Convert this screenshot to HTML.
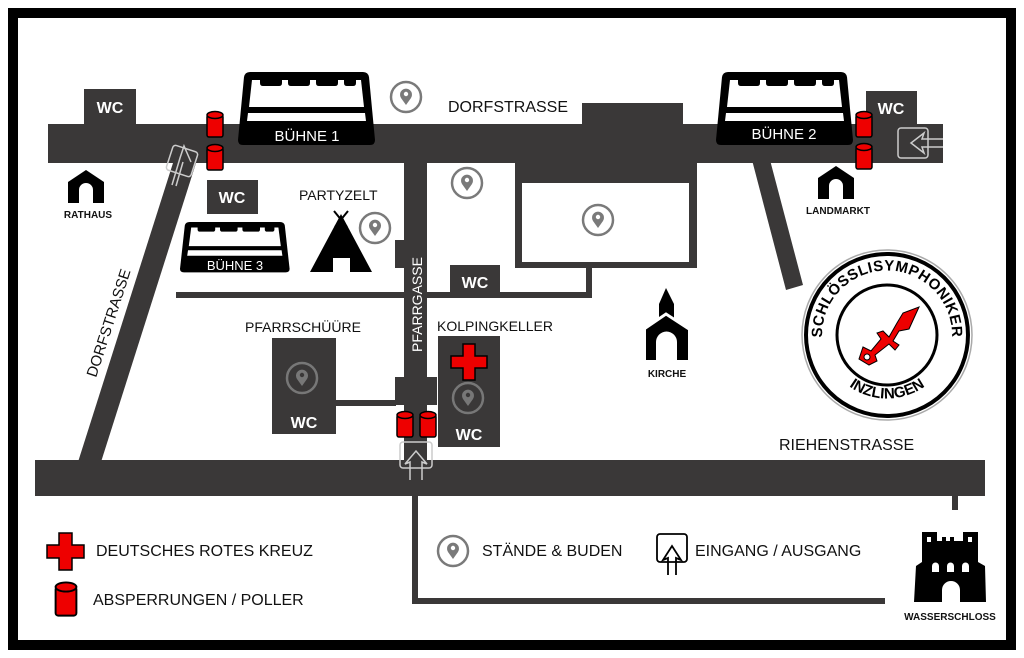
<!DOCTYPE html>
<html><head><meta charset="utf-8"><style>
html,body{margin:0;padding:0;background:#fff}
svg{display:block}
text{font-family:"Liberation Sans",sans-serif}
</style></head><body>
<svg width="1024" height="658" viewBox="0 0 1024 658" xmlns="http://www.w3.org/2000/svg">
<defs>
<g id="stage">
  <path d="M12,0 H125 Q130,0 131,5 L137,68 Q137,73 132,73 H5 Q0,73 0,68 L6,5 Q7,0 12,0 Z" fill="#000"/>
  <polygon points="14,8 123,8 126,35 11,35" fill="#fff"/>
  <path d="M22,8 h22 v3 q0,3 -3,3 h-16 q-3,0 -3,-3z M50,8 h22 v3 q0,3 -3,3 h-16 q-3,0 -3,-3z M78,8 h22 v3 q0,3 -3,3 h-16 q-3,0 -3,-3z M106,8 h12 v3 q0,3 -3,3 h-6 q-3,0 -3,-3z" fill="#000"/>
  <polygon points="10,41 127,41 128,49 9,49" fill="#fff"/>
</g>
<g id="pin">
  <circle cx="0" cy="0" r="15" fill="none" stroke="#7a7a7a" stroke-width="2.5"/>
  <path d="M0,8 L-5,1 A6,6 0 1 1 5,1 Z" fill="#7a7a7a"/>
  <circle cx="0" cy="-3" r="2.2" fill="#fff"/>
</g>
<g id="pinw">
  <circle cx="0" cy="0" r="15" fill="none" stroke="#777" stroke-width="2.5"/>
  <path d="M0,8 L-5,1 A6,6 0 1 1 5,1 Z" fill="#777"/>
  <circle cx="0" cy="-3" r="2.2" fill="#3a3838"/>
</g>
<g id="boll">
  <rect x="-8" y="-10" width="16" height="22" rx="2" fill="#e00" stroke="#000" stroke-width="1.5"/>
  <ellipse cx="0" cy="-10" rx="8" ry="3.5" fill="#e00" stroke="#000" stroke-width="1.5"/>
</g>
<g id="house">
  <path d="M0,12 L18,0 L36,12 V33 H25 V20 A7,7 0 0 0 11,20 V33 H0 Z" fill="#000"/>
</g>
</defs>

<!-- frame -->
<rect x="13" y="13" width="998" height="632" fill="#fff" stroke="#000" stroke-width="10"/>

<g fill="#3a3838">
  <!-- Dorfstrasse top -->
  <rect x="48" y="124" width="895" height="39"/>
  <rect x="84" y="89" width="52" height="36"/>
  <rect x="582" y="103" width="101" height="22"/>
  <rect x="866" y="91" width="51" height="34"/>
  <!-- Pfarrgasse -->
  <rect x="404" y="160" width="23" height="302"/>
  <rect x="395" y="240" width="12" height="28"/>
  <rect x="395" y="377" width="42" height="28"/>
  <!-- block -->
  <path d="M515,160 H697 V268 H515 Z M522,183 V262 H689 V183 Z" fill-rule="evenodd"/>
  <rect x="586" y="266" width="6" height="32"/>
  <rect x="176" y="292" width="416" height="6"/>
  <rect x="450" y="265" width="50" height="33"/>
  <!-- diagonals -->
  <polygon points="78,462 101,462 196,163 173,163"/>
  <polygon points="752,160 770,160 803,285 786,290"/>
  <!-- Riehenstrasse -->
  <rect x="35" y="460" width="950" height="36"/>
  <rect x="952" y="494" width="6" height="16"/>
  <rect x="412" y="494" width="6" height="110"/>
  <rect x="412" y="598" width="473" height="6"/>
  <!-- boxes -->
  <rect x="207" y="180" width="51" height="34"/>
  <rect x="272" y="338" width="64" height="96"/>
  <rect x="438" y="336" width="62" height="111"/>
  <rect x="334" y="400" width="62" height="6"/>
</g>

<!-- WC labels -->
<g fill="#fff" font-weight="bold" font-size="16" text-anchor="middle">
  <text x="110" y="113">WC</text>
  <text x="891" y="114">WC</text>
  <text x="232" y="203">WC</text>
  <text x="475" y="288">WC</text>
  <text x="304" y="428">WC</text>
  <text x="469" y="440">WC</text>
</g>

<!-- stages -->
<use href="#stage" transform="translate(238,72)"/>
<text x="307" y="141" fill="#fff" font-size="15" text-anchor="middle">BÜHNE 1</text>
<use href="#stage" transform="translate(716,72)"/>
<text x="784" y="139" fill="#fff" font-size="15" text-anchor="middle">BÜHNE 2</text>
<use href="#stage" transform="translate(180,222) scale(0.8,0.69)"/>
<text x="235" y="270" fill="#fff" font-size="13" text-anchor="middle">BÜHNE 3</text>

<!-- bollards -->
<use href="#boll" transform="translate(215,125)"/>
<use href="#boll" transform="translate(215,158)"/>
<use href="#boll" transform="translate(864,125)"/>
<use href="#boll" transform="translate(864,157)"/>
<use href="#boll" transform="translate(405,425)"/>
<use href="#boll" transform="translate(428,425)"/>
<use href="#boll" transform="translate(66,600) scale(1.3,1.3)"/>

<!-- entrance icons -->
<g fill="none" stroke="#ccc" stroke-width="1.5">
  <rect x="169" y="148" width="26" height="26" rx="3" transform="rotate(18 182 161)"/>
  <path d="M172,185 L180,158 L184,146 L191,162 M176,186 L183,162"/>
  <rect x="400" y="442" width="32" height="26" rx="3"/>
  <path d="M410,480 V462 L405,464 L416,451 L427,464 L422,462 V480"/>
  <rect x="898" y="128" width="30" height="30" rx="3"/>
  <path d="M943,139 H922 L924,133 L911,143 L924,153 L922,147 H943"/>
</g>
<g fill="none" stroke="#000" stroke-width="1.8">
  <rect x="657" y="534" width="30" height="28" rx="3"/>
  <path d="M668,575 V558 L663,560 L672,546 L681,560 L676,558 V575"/>
</g>

<!-- pins -->
<use href="#pin" transform="translate(406,97)"/>
<use href="#pin" transform="translate(467,183)"/>
<use href="#pin" transform="translate(375,228)"/>
<use href="#pin" transform="translate(598,220)"/>
<use href="#pinw" transform="translate(302,378)"/>
<use href="#pinw" transform="translate(468,398)"/>
<use href="#pin" transform="translate(453,551)"/>

<!-- red crosses -->
<path d="M463,344 h12 v12 h12 v12 h-12 v12 h-12 v-12 h-12 v-12 h12 z" fill="#e00" stroke="#000" stroke-width="1.5"/>
<path d="M59,533 h13 v12 h12 v13 h-12 v12 h-13 v-12 h-12 v-13 h12 z" fill="#e00" stroke="#000" stroke-width="1.5"/>

<!-- houses -->
<use href="#house" transform="translate(68,170)"/>
<use href="#house" transform="translate(818,166)"/>
<!-- tent -->
<path d="M341,214 L310,272 H333 V258 H350 V272 H372 Z" fill="#000"/>
<path d="M334,211 L347,227 M348,211 L335,227" stroke="#000" stroke-width="2"/>
<!-- church -->
<path d="M666,288 L674,304 V318 L688,328 V360 H677 V342 A10,10 0 0 0 656,342 V360 H646 V328 L659,318 V304 Z" fill="#000"/>
<path d="M644,329 L666,314 L689,329" stroke="#fff" stroke-width="3" fill="none"/>
<!-- castle -->
<path d="M922,532 H937 V541 H963 V532 H978 V562 L985,566 L986,602 H960 V590 A9,9 0 0 0 942,590 V602 H914 L916,566 L922,562 Z" fill="#000"/>
<rect x="942" y="537" width="4" height="5" fill="#000"/><rect x="950" y="537" width="4" height="5" fill="#000"/>
<rect x="927" y="537" width="4" height="5" fill="#fff"/><rect x="968" y="537" width="4" height="5" fill="#fff"/>
<path d="M932,572 v-6 a3.5,3.5 0 0 1 7,0 v6z M947,572 v-6 a3.5,3.5 0 0 1 7,0 v6z M962,572 v-6 a3.5,3.5 0 0 1 7,0 v6z" fill="#fff"/>

<!-- labels -->
<g font-size="16" fill="#111">
  <text x="448" y="112">DORFSTRASSE</text>
  <text x="779" y="450">RIEHENSTRASSE</text>
  <text x="299" y="200" font-size="14">PARTYZELT</text>
  <text x="245" y="332" font-size="14">PFARRSCHÜÜRE</text>
  <text x="437" y="331" font-size="14">KOLPINGKELLER</text>
  <text x="96" y="556">DEUTSCHES ROTES KREUZ</text>
  <text x="93" y="605">ABSPERRUNGEN / POLLER</text>
  <text x="482" y="556">STÄNDE &amp; BUDEN</text>
  <text x="695" y="556">EINGANG / AUSGANG</text>
  <text transform="translate(96,378) rotate(-72)" font-size="15">DORFSTRASSE</text>
</g>
<text transform="translate(422,352) rotate(-90)" font-size="14" fill="#fff">PFARRGASSE</text>
<g font-size="10" font-weight="bold" fill="#111" text-anchor="middle">
  <text x="88" y="218">RATHAUS</text>
  <text x="838" y="214">LANDMARKT</text>
  <text x="667" y="377">KIRCHE</text>
  <text x="950" y="620">WASSERSCHLOSS</text>
</g>

<!-- logo -->
<g transform="translate(887,335)">
  <circle r="85" fill="#fff" stroke="#aaa" stroke-width="1.5"/>
  <circle r="81" fill="none" stroke="#000" stroke-width="4"/>
  <circle r="50" fill="none" stroke="#000" stroke-width="3"/>
  <defs>
    <path id="arcTop" d="M-62,20 A65,65 0 1 1 62,20"/>
    <path id="arcBot" d="M-50,40 A65,65 0 0 0 50,40"/>
  </defs>
  <text font-size="15" font-weight="bold" fill="#000" letter-spacing="0.5"><textPath href="#arcTop" startOffset="50%" text-anchor="middle">SCHLÖSSLISYMPHONIKER</textPath></text>
  <text font-size="15" font-weight="bold" fill="#000"><textPath href="#arcBot" startOffset="50%" text-anchor="middle">INZLINGEN</textPath></text>
  <path d="M32,-28 L22,-6 L12,-4 L6,6 L12,10 L8,15 L2,9 L-12,20 L-10,26 L-18,30 L-28,24 L-24,12 L-16,16 L-6,4 L-10,-2 L-4,-4 L2,2 L10,-12 L16,-22 Z" fill="#e00" stroke="#000" stroke-width="1"/>
  <circle cx="-20" cy="22" r="3" fill="#fff" stroke="#000" stroke-width="1"/>
</g>
</svg>
</body></html>
